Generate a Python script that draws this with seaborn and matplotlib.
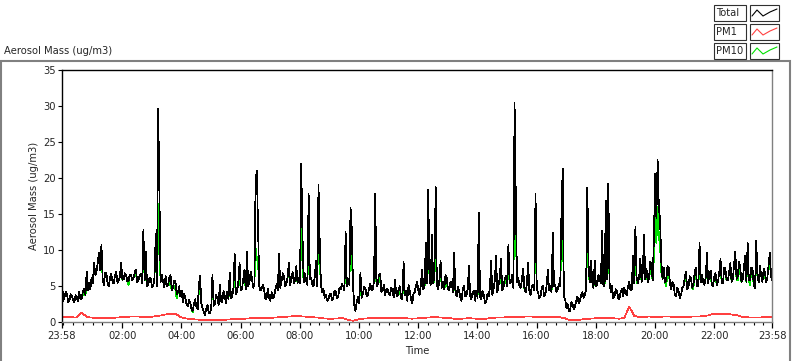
import matplotlib
matplotlib.use("Agg")
import pandas as pd
import matplotlib.pyplot as plt
import matplotlib.dates as mdates
from matplotlib.lines import Line2D
from matplotlib.patches import Rectangle
import seaborn as sns

W, H = 800, 361
START = pd.Timestamp("2000-01-01 23:58")

# ── Data ──────────────────────────────────────────────────────────────────────
# Total aerosol mass (ug/m3), 2.5-min samples from 23:58, one row per hour
total = [
    5.8, 3.0, 3.4, 4.2, 3.9, 2.8, 3.0, 3.9, 3.6, 3.1, 2.8, 3.8, 3.5, 2.9, 4.2, 3.2, 3.3, 4.4, 4.6, 3.8, 7.0, 4.4, 5.5, 4.6,
    6.2, 5.4, 8.3, 6.6, 7.0, 8.4, 9.7, 7.2, 10.8, 6.0, 5.2, 6.9, 6.8, 5.3, 5.0, 6.2, 6.7, 5.6, 5.4, 6.5, 7.0, 5.5, 5.8, 6.4,
    8.3, 5.9, 6.0, 6.8, 6.5, 5.7, 5.8, 6.6, 6.6, 5.8, 6.1, 7.0, 7.3, 5.6, 5.9, 6.5, 6.8, 5.5, 12.8, 5.8, 9.8, 5.0, 5.2, 6.2,
    6.0, 4.9, 5.0, 6.2, 12.3, 5.0, 29.7, 17.5, 5.6, 6.6, 5.6, 4.9, 6.4, 5.0, 5.2, 6.2, 6.6, 4.5, 4.8, 5.8, 5.6, 3.9, 4.2, 5.0,
    3.6, 4.4, 2.8, 3.9, 3.4, 2.5, 2.2, 3.1, 2.7, 1.9, 1.6, 2.6, 3.2, 2.2, 1.8, 5.2, 6.4, 2.6, 2.0, 1.4, 1.0, 1.9, 2.4, 1.3,
    1.2, 2.0, 6.6, 2.3, 2.6, 3.8, 3.4, 2.4, 5.2, 3.0, 2.8, 4.4, 3.6, 2.7, 4.2, 3.2, 6.9, 3.4, 3.6, 4.8, 9.5, 3.9, 4.2, 5.6,
    8.3, 4.5, 4.7, 6.0, 7.3, 4.6, 9.8, 5.0, 5.6, 7.0, 6.2, 4.8, 5.2, 19.8, 21.0, 12.9, 5.0, 4.4, 4.8, 5.2, 4.4, 3.2, 3.5, 4.6,
    3.4, 3.0, 4.2, 3.3, 3.6, 4.6, 5.3, 4.4, 9.5, 4.8, 5.6, 6.8, 6.4, 5.0, 5.4, 6.4, 8.3, 5.2, 6.0, 7.0, 5.4, 5.8, 7.8, 5.5,
    6.2, 5.4, 22.0, 12.2, 5.6, 6.8, 5.8, 5.2, 17.8, 6.0, 6.2, 5.2, 5.0, 6.4, 8.5, 5.0, 19.1, 11.2, 5.2, 4.2, 4.6, 3.4, 3.8, 3.0,
    3.2, 3.9, 4.0, 3.1, 3.4, 4.4, 4.2, 3.3, 3.6, 4.8, 4.6, 5.3, 5.0, 4.4, 12.5, 5.0, 6.0, 5.2, 15.9, 13.0, 5.0, 2.4, 1.6, 2.8,
    3.6, 2.6, 6.9, 3.4, 4.0, 4.9, 4.8, 3.6, 3.8, 4.7, 5.4, 4.4, 4.6, 5.6, 17.8, 5.0, 5.2, 6.6, 6.8, 4.2, 4.4, 5.2, 3.8, 4.6,
    4.6, 3.9, 3.8, 4.8, 4.4, 3.5, 5.9, 4.1, 3.6, 4.6, 5.0, 3.4, 3.2, 8.4, 3.8, 4.3, 3.0, 5.2, 4.4, 3.3, 2.6, 3.9, 4.2, 5.0,
    5.6, 4.4, 3.8, 5.2, 7.3, 4.6, 4.8, 11.1, 5.4, 18.4, 6.0, 5.2, 12.1, 5.4, 6.4, 18.8, 5.2, 4.6, 5.8, 8.5, 4.8, 5.6, 4.6, 6.6,
    6.2, 4.6, 4.4, 5.6, 5.6, 4.2, 9.7, 4.4, 3.6, 4.9, 4.4, 3.4, 3.0, 4.6, 5.1, 3.6, 3.8, 4.6, 7.8, 3.6, 3.2, 4.2, 4.4, 3.0,
    4.4, 3.4, 15.2, 3.6, 3.2, 4.4, 3.8, 2.7, 2.8, 3.9, 3.6, 4.8, 8.5, 3.8, 4.6, 5.8, 9.2, 4.2, 5.2, 6.2, 8.8, 4.4, 4.8, 6.0,
    6.4, 5.0, 10.8, 5.4, 5.6, 6.6, 4.8, 30.5, 17.3, 5.6, 6.2, 5.0, 4.8, 6.0, 7.4, 4.6, 4.2, 5.4, 8.3, 4.4, 3.8, 5.0, 5.2, 4.4,
    17.9, 4.6, 4.2, 3.4, 3.6, 4.8, 5.0, 3.6, 3.8, 5.2, 7.3, 4.4, 5.0, 4.2, 12.4, 5.0, 5.2, 4.2, 4.6, 5.4, 5.0, 15.1, 21.3, 3.6,
    3.2, 2.0, 2.5, 1.5, 1.6, 2.8, 2.6, 1.8, 2.2, 3.0, 3.6, 2.6, 3.0, 3.8, 4.2, 3.4, 3.8, 4.6, 18.7, 7.9, 5.6, 8.5, 5.6, 4.8,
    8.5, 5.0, 5.2, 6.6, 6.0, 5.4, 12.7, 5.2, 5.0, 16.9, 6.0, 19.2, 5.6, 4.2, 5.0, 3.4, 3.6, 4.6, 4.4, 3.4, 3.2, 4.2, 4.6, 3.6,
    4.8, 3.9, 3.8, 5.0, 5.6, 4.4, 4.6, 9.2, 5.4, 13.3, 6.2, 5.4, 6.2, 8.8, 5.6, 7.0, 12.2, 6.0, 7.4, 5.6, 6.0, 8.4, 8.0, 5.8,
    11.8, 20.6, 14.5, 22.6, 16.0, 14.2, 8.4, 6.0, 7.6, 5.6, 5.8, 7.8, 7.6, 5.4, 4.6, 5.6, 5.2, 3.8, 3.6, 4.8, 4.4, 3.4, 3.8, 4.8,
    5.0, 6.2, 7.0, 4.6, 4.8, 6.4, 6.2, 4.8, 5.2, 6.8, 7.6, 5.0, 5.0, 11.0, 5.6, 6.6, 5.6, 5.2, 6.2, 9.6, 5.4, 6.8, 7.2, 5.2,
    5.0, 6.4, 6.8, 5.2, 5.6, 7.0, 8.8, 5.4, 5.4, 7.6, 7.4, 5.8, 5.8, 7.0, 8.2, 5.6, 6.0, 8.0, 9.8, 6.0, 6.4, 8.4, 7.6, 5.6,
    6.0, 7.6, 9.2, 5.6, 11.0, 5.8, 5.8, 7.6, 7.4, 5.2, 4.8, 11.3, 6.2, 5.6, 7.8, 6.4, 5.6, 7.4, 7.0, 5.6, 6.2, 8.0, 9.6, 6.4, 5.8,
]

# PM10 (ug/m3), same 2.5-min samples
pm10 = [
    5.8, 3.0, 3.4, 4.2, 3.9, 2.8, 3.0, 3.9, 3.6, 3.1, 2.8, 3.8, 3.5, 2.9, 3.6, 3.2, 3.3, 4.4, 3.8, 3.8, 5.2, 4.4, 5.5, 4.6,
    6.2, 5.4, 7.4, 6.6, 7.0, 8.4, 9.0, 7.2, 9.5, 6.0, 5.2, 6.9, 6.8, 5.3, 5.0, 6.2, 6.7, 5.6, 5.4, 6.5, 7.0, 5.5, 5.8, 6.4,
    7.6, 5.9, 6.0, 6.8, 6.5, 5.7, 5.2, 6.6, 6.6, 5.8, 6.1, 7.0, 6.6, 5.6, 5.9, 6.5, 6.8, 5.5, 11.0, 5.8, 8.5, 5.0, 5.2, 6.2,
    6.0, 4.9, 5.0, 6.2, 11.0, 5.0, 16.5, 9.0, 5.6, 6.6, 5.6, 4.9, 6.4, 5.0, 5.2, 6.2, 5.0, 4.5, 4.8, 5.0, 4.6, 3.3, 4.2, 5.0,
    3.6, 4.4, 2.8, 3.9, 3.4, 2.5, 2.2, 3.1, 2.7, 1.9, 1.4, 2.6, 3.2, 2.2, 1.8, 4.4, 5.2, 2.6, 2.0, 1.4, 1.0, 1.9, 2.4, 1.3,
    1.2, 2.0, 5.4, 2.3, 2.6, 3.8, 3.4, 2.4, 4.2, 3.0, 2.8, 4.4, 3.6, 2.7, 4.2, 3.2, 5.8, 3.4, 3.6, 4.8, 6.2, 3.9, 4.2, 5.6,
    6.0, 4.5, 4.7, 6.0, 6.4, 4.6, 7.5, 5.0, 5.6, 7.0, 6.2, 4.8, 5.2, 10.3, 9.0, 8.0, 5.0, 4.4, 4.8, 5.2, 4.4, 3.2, 3.5, 4.6,
    3.4, 3.0, 4.2, 3.3, 3.6, 4.6, 5.3, 4.4, 7.4, 4.8, 5.6, 6.8, 6.4, 5.0, 5.4, 6.4, 6.8, 5.2, 6.0, 7.0, 5.4, 5.8, 6.4, 5.5,
    6.2, 5.4, 14.0, 8.0, 5.6, 6.8, 5.8, 5.2, 12.0, 6.0, 6.2, 5.2, 5.0, 6.4, 7.0, 5.0, 14.6, 8.0, 5.2, 4.2, 4.6, 3.4, 3.8, 3.0,
    3.2, 3.9, 4.0, 3.1, 3.4, 4.4, 4.2, 3.3, 3.6, 4.8, 4.6, 5.3, 5.0, 4.4, 8.8, 5.0, 6.0, 5.2, 12.3, 9.0, 5.0, 2.4, 1.6, 2.8,
    3.6, 2.6, 5.6, 3.4, 4.0, 4.9, 4.8, 3.6, 3.8, 4.7, 5.4, 4.4, 4.6, 5.6, 12.0, 5.0, 5.2, 6.6, 5.8, 4.2, 4.4, 5.2, 3.8, 4.6,
    4.6, 3.9, 3.8, 4.8, 4.4, 3.5, 4.8, 4.1, 3.6, 4.6, 4.2, 3.4, 3.2, 6.4, 3.8, 4.3, 3.0, 5.2, 4.4, 3.3, 2.6, 3.9, 4.2, 5.0,
    5.6, 4.4, 3.8, 5.2, 6.0, 4.6, 4.8, 8.0, 5.4, 13.5, 6.0, 5.2, 9.0, 5.4, 5.6, 13.0, 5.2, 4.6, 5.8, 7.0, 4.8, 5.6, 4.6, 5.6,
    5.4, 4.6, 4.4, 5.6, 5.6, 4.2, 7.4, 4.4, 3.6, 4.9, 4.4, 3.4, 3.0, 4.6, 5.1, 3.6, 3.8, 4.6, 6.4, 3.6, 3.2, 4.2, 4.4, 3.0,
    4.4, 3.4, 10.5, 3.6, 3.2, 4.4, 3.8, 2.7, 2.8, 3.9, 3.6, 4.8, 6.8, 3.8, 4.6, 5.8, 7.2, 4.2, 5.2, 5.4, 7.0, 4.4, 4.8, 6.0,
    5.6, 5.0, 8.0, 5.4, 5.6, 6.6, 4.8, 20.0, 12.0, 5.6, 6.2, 5.0, 4.8, 6.0, 6.2, 4.6, 4.2, 5.4, 6.8, 4.4, 3.8, 5.0, 5.2, 4.4,
    12.5, 4.6, 4.2, 3.4, 3.6, 4.8, 5.0, 3.6, 3.8, 5.2, 6.0, 4.4, 5.0, 4.2, 9.0, 5.0, 5.2, 4.2, 4.6, 5.4, 5.0, 11.0, 14.5, 3.6,
    3.2, 2.0, 2.5, 1.5, 1.6, 2.8, 2.6, 1.8, 2.2, 3.0, 3.6, 2.6, 3.0, 3.8, 4.2, 3.4, 3.8, 4.6, 13.0, 6.5, 5.6, 7.0, 5.6, 4.8,
    7.0, 5.0, 5.2, 6.6, 6.0, 5.4, 9.5, 5.2, 5.0, 12.0, 6.0, 13.5, 5.6, 4.2, 5.0, 3.4, 3.6, 4.6, 4.4, 3.4, 3.2, 4.2, 4.6, 3.6,
    4.8, 3.9, 3.8, 5.0, 5.6, 4.4, 4.6, 7.5, 5.4, 10.0, 5.4, 5.4, 6.2, 7.4, 5.6, 7.0, 9.5, 6.0, 6.6, 5.6, 6.0, 7.2, 7.0, 5.8,
    9.0, 14.5, 11.0, 16.0, 12.0, 10.5, 7.0, 6.0, 6.6, 5.6, 5.0, 7.0, 6.8, 5.4, 4.6, 5.6, 5.2, 3.8, 3.6, 4.8, 4.4, 3.4, 3.8, 4.8,
    5.0, 6.2, 6.2, 4.6, 4.8, 6.4, 6.2, 4.8, 4.6, 6.8, 6.6, 5.0, 5.0, 8.5, 5.6, 6.6, 5.6, 5.2, 6.2, 8.0, 5.4, 6.8, 6.4, 5.2,
    5.0, 6.4, 6.0, 5.2, 5.6, 7.0, 7.6, 5.4, 5.4, 7.6, 6.6, 5.8, 5.8, 7.0, 7.2, 5.6, 6.0, 8.0, 8.2, 6.0, 5.8, 8.4, 6.8, 5.6,
    6.0, 7.6, 8.0, 5.6, 9.0, 5.8, 5.2, 7.6, 6.6, 5.2, 4.8, 9.0, 6.2, 5.6, 6.8, 6.4, 5.6, 7.4, 6.3, 5.6, 6.2, 8.0, 8.0, 6.4, 5.8,
]

# PM1 (ug/m3), 10-min samples from 23:58, one row per hour
pm1 = [
    0.80, 0.75, 0.70, 0.65, 1.35, 0.75,
    0.65, 0.60, 0.62, 0.60, 0.62, 0.65,
    0.70, 0.75, 0.80, 0.80, 0.78, 0.72,
    0.75, 0.85, 0.95, 1.10, 1.15, 1.20,
    0.75, 0.55, 0.45, 0.40, 0.35, 0.30,
    0.30, 0.30, 0.35, 0.35, 0.40, 0.45,
    0.50, 0.50, 0.55, 0.55, 0.55, 0.60,
    0.60, 0.65, 0.70, 0.75, 0.80, 0.85,
    0.85, 0.80, 0.75, 0.70, 0.65, 0.55,
    0.50, 0.50, 0.55, 0.55, 0.35, 0.20,
    0.40, 0.50, 0.55, 0.55, 0.60, 0.60,
    0.55, 0.55, 0.60, 0.60, 0.55, 0.50,
    0.55, 0.60, 0.65, 0.70, 0.70, 0.65,
    0.60, 0.55, 0.45, 0.50, 0.55, 0.55,
    0.50, 0.45, 0.50, 0.60, 0.65, 0.65,
    0.70, 0.70, 0.75, 0.75, 0.80, 0.80,
    0.75, 0.75, 0.70, 0.75, 0.75, 0.70,
    0.55, 0.30, 0.30, 0.35, 0.45, 0.50,
    0.55, 0.65, 0.60, 0.60, 0.55, 0.50,
    0.60, 2.20, 0.90, 0.75, 0.75, 0.80,
    0.75, 0.75, 0.80, 0.80, 0.75, 0.75,
    0.75, 0.75, 0.80, 0.80, 0.85, 0.95,
    1.15, 1.20, 1.20, 1.15, 1.05, 0.95,
    0.75, 0.70, 0.65, 0.65, 0.70, 0.70, 0.70,
]

Y_TICKS = [0, 5, 10, 15, 20, 25, 30, 35]
LEGEND = [("Total", "black"), ("PM1", "#ff4040"), ("PM10", "#00e000")]

t_fast = pd.date_range(START, periods=len(total), freq="150s")
t_pm1 = pd.date_range(START, periods=len(pm1), freq="10min")

# ── Style ─────────────────────────────────────────────────────────────────────
sns.set_style("white")
plt.rcParams["font.family"] = ["DejaVu Sans"]
FS = 7.2

def fx(px):
    return px / W

def fy(py):
    return 1 - py / H

fig = plt.figure(figsize=(W / 100, H / 100), dpi=100)
ax = fig.add_axes([fx(62), fy(322.3), fx(772.3 - 62), (322.3 - 70.3) / H])

# LabVIEW-style crisp 1px traces
LW = 0.5
sns.lineplot(x=t_pm1, y=pm1, ax=ax, color=LEGEND[1][1], lw=LW, antialiased=False)
sns.lineplot(x=t_fast, y=pm10, ax=ax, color=LEGEND[2][1], lw=LW, antialiased=False)
sns.lineplot(x=t_fast, y=total, ax=ax, color=LEGEND[0][1], lw=LW, antialiased=False)

end = START + pd.Timedelta(hours=24)
ax.set_xlim(START, end)
ax.set_ylim(0, 35)

majors = [START] + [pd.Timestamp("2000-01-02 02:00") + pd.Timedelta(hours=2 * k)
                    for k in range(11)] + [end]
minors = [pd.Timestamp("2000-01-02 00:00") + pd.Timedelta(minutes=20 * k)
          for k in range(72)]
minors = [m for m in minors if m not in majors]
ax.set_xticks(mdates.date2num(majors))
ax.set_xticklabels([m.strftime("%H:%M") for m in majors], fontsize=FS)
ax.set_xticks(mdates.date2num(minors), minor=True)
ax.set_yticks(Y_TICKS)
ax.set_yticklabels([str(v) for v in Y_TICKS], fontsize=FS)

ax.tick_params(axis="x", which="major", direction="out", length=4, width=0.9,
               color="black", pad=2, bottom=True)
ax.tick_params(axis="x", which="minor", direction="out", length=2.2, width=0.8,
               color="black", bottom=True)
ax.tick_params(axis="y", direction="out", length=3, width=0.8, color="black",
               pad=1.5, left=True)

for side, col in [("left", "black"), ("top", "black"),
                  ("right", "#808080"), ("bottom", "#808080")]:
    ax.spines[side].set_visible(True)
    ax.spines[side].set_color(col)
    ax.spines[side].set_linewidth(1.0)

ax.set_xlabel("Time", fontsize=FS, labelpad=4)
ax.set_ylabel("Aerosol Mass (ug/m3)", fontsize=FS, labelpad=3)

# ── Panel frame, caption and legend ───────────────────────────────────────────
fig.add_artist(Rectangle((fx(1), fy(365)), fx(789), (365 - 61) / H, fill=False,
                         edgecolor="#808080", lw=1.5, transform=fig.transFigure))
fig.text(fx(4), fy(51), "Aerosol Mass (ug/m3)", fontsize=FS, va="center", ha="left")

zig = [(2, 3), (7, -3), (13, 3), (20, -1), (27, -4)]
for k, (name, col) in enumerate(LEGEND):
    yc = 13 + 19 * k
    fig.add_artist(Rectangle((fx(714), fy(yc + 8)), fx(32), 16 / H, fill=False,
                             edgecolor="#303030", lw=0.8, transform=fig.transFigure))
    fig.add_artist(Rectangle((fx(750), fy(yc + 8)), fx(29), 16 / H, fill=False,
                             edgecolor="#303030", lw=0.8, transform=fig.transFigure))
    fig.text(fx(716), fy(yc), name, fontsize=FS, va="center", ha="left")
    fig.add_artist(Line2D([fx(750 + dx) for dx, dy in zig],
                          [fy(yc + dy) for dx, dy in zig],
                          color=col, lw=0.8, transform=fig.transFigure))

fig.savefig("out.png", dpi=100)
